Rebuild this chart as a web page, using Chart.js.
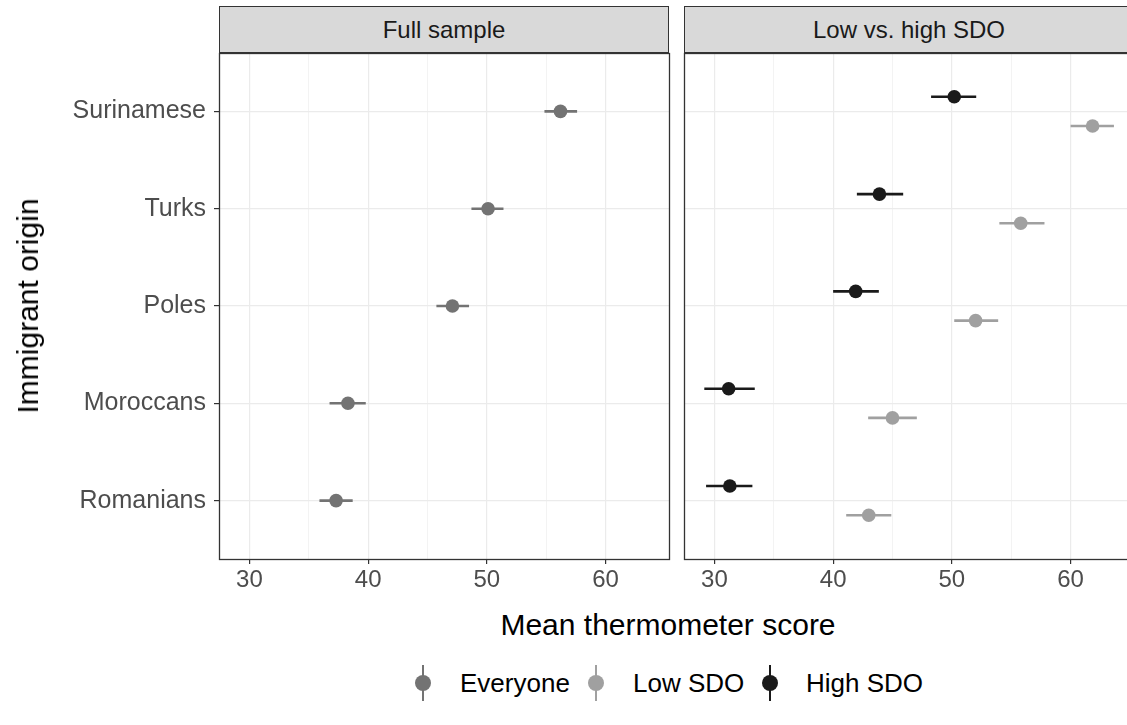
<!DOCTYPE html>
<html>
<head>
<meta charset="utf-8">
<script src="https://cdn.jsdelivr.net/npm/chart.js@4"></script>
<style>
  body { margin: 0; width: 1127px; height: 725px; overflow: hidden; background: #fff; font-family: "Liberation Sans", Arial, sans-serif; position: relative; }
  canvas { position: absolute; top: 0; }
  .strip { position: absolute; top: 6px; height: 47px; width: 450px; box-sizing: border-box; background: #D9D9D9; border: 1.3px solid #333; color: #1A1A1A; font-size: 24px; text-align: center; line-height: 45px; }
  .title { position: absolute; color: #000; font-size: 30px; white-space: nowrap; line-height: 34px; }
  .key { position: absolute; width: 16px; height: 36px; }
  .key .ln { position: absolute; left: 7px; top: 0; width: 2.4px; height: 36px; }
  .key .pt { position: absolute; left: 0; top: 10px; width: 16px; height: 16px; border-radius: 50%; }
  .lab { position: absolute; font-size: 26px; color: #000; line-height: 28px; }
</style>
</head>
<body>
<canvas id="leftPanel" width="684" height="600" style="left:0"></canvas>
<canvas id="rightPanel" width="480" height="600" style="left:669px"></canvas>
<div class="strip" style="left:219px">Full sample</div>
<div class="strip" style="left:684px">Low vs. high SDO</div>
<div class="title" style="left:668px; top:608px; transform:translateX(-50%)">Mean thermometer score</div>
<div class="title" style="left:28px; top:306px; transform:translate(-50%,-50%) rotate(-90deg)">Immigrant origin</div>

<div class="key" style="left:415px; top:665px"><div class="ln" style="background:#737373"></div><div class="pt" style="background:#737373"></div></div>
<div class="lab" style="left:460px; top:669px">Everyone</div>
<div class="key" style="left:588px; top:665px"><div class="ln" style="background:#A0A0A0"></div><div class="pt" style="background:#A0A0A0"></div></div>
<div class="lab" style="left:633px; top:669px">Low SDO</div>
<div class="key" style="left:762px; top:665px"><div class="ln" style="background:#1A1A1A"></div><div class="pt" style="background:#1A1A1A"></div></div>
<div class="lab" style="left:806px; top:669px">High SDO</div>

<script>
// bottom to top, as ggplot puts them on the discrete axis
const categories = ['Romanians', 'Moroccans', 'Poles', 'Turks', 'Surinamese'];

const everyoneMean = [37.3, 38.3, 47.1, 50.1, 56.2];
const everyoneLo   = [35.9, 36.75, 45.75, 48.7, 54.85];
const everyoneHi   = [38.7, 39.8, 48.5, 51.4, 57.6];

const lowMean = [43.0, 45.0, 52.0, 55.8, 61.85];
const lowLo   = [41.1, 42.95, 50.2, 54.0, 60.0];
const lowHi   = [44.9, 47.05, 53.9, 57.8, 63.65];

const highMean = [31.3, 31.2, 41.9, 43.9, 50.2];
const highLo   = [29.3, 29.15, 40.0, 42.0, 48.25];
const highHi   = [33.2, 33.4, 43.85, 45.9, 52.05];

const xTicks = [30, 40, 50, 60];
const DODGE = 0.15;

const colEveryone = '#737373';
const colLow = '#A0A0A0';
const colHigh = '#1A1A1A';

function points(mean, lo, hi, shift) {
    return mean.map((m, i) => ({ x: m, y: i + 1 + shift, lo: lo[i], hi: hi[i] }));
}

// horizontal error bars + panel border, drawn with the chart's own scales
const rangePlugin = {
    id: 'ranges',
    beforeDatasetsDraw(chart) {
        const ctx = chart.ctx;
        const xs = chart.scales.x, ys = chart.scales.y;
        ctx.save();
        ctx.lineWidth = 2.6;
        chart.data.datasets.forEach(ds => {
            ctx.strokeStyle = ds.backgroundColor;
            ds.data.forEach(p => {
                const y = ys.getPixelForValue(p.y);
                ctx.beginPath();
                ctx.moveTo(xs.getPixelForValue(p.lo), y);
                ctx.lineTo(xs.getPixelForValue(p.hi), y);
                ctx.stroke();
            });
        });
        ctx.restore();
    },
    afterDatasetsDraw(chart) {
        const a = chart.chartArea;
        const ctx = chart.ctx;
        ctx.save();
        ctx.strokeStyle = '#333333';
        ctx.lineWidth = 1.3;
        ctx.strokeRect(a.left + 0.5, a.top + 0.5, a.right - a.left, a.bottom - a.top);
        ctx.restore();
    }
};

function makeOptions(showLabels, padLeft) {
    return {
        responsive: false,
        animation: false,
        devicePixelRatio: 1,
        layout: { padding: { top: 53, right: 15, left: padLeft, bottom: 0 } },
        plugins: { legend: { display: false }, tooltip: { enabled: false } },
        scales: {
            x: {
                type: 'linear',
                min: 27.44,
                max: 65.34,
                border: { display: false },
                grid: {
                    color: c => (c.tick && c.tick.value > 60) ? 'rgba(0,0,0,0)' : '#EBEBEB',
                    lineWidth: c => (c.tick && xTicks.includes(c.tick.value)) ? 1.2 : 0.6,
                    tickColor: c => (c.tick && xTicks.includes(c.tick.value)) ? '#333333' : 'rgba(0,0,0,0)',
                    tickLength: 5,
                    tickWidth: 1.2
                },
                ticks: {
                    stepSize: 5,
                    includeBounds: false,
                    autoSkip: false,
                    maxRotation: 0,
                    padding: 2,
                    color: '#4D4D4D',
                    font: { family: 'Liberation Sans', size: 24 },
                    callback: v => xTicks.includes(v) ? String(v) : ''
                },
                afterFit: s => { s.height = 41; }
            },
            y: {
                type: 'linear',
                min: 0.4,
                max: 5.6,
                border: { display: false },
                afterBuildTicks: s => { s.ticks = categories.map((c, i) => ({ value: i + 1 })); },
                grid: {
                    color: '#EBEBEB',
                    lineWidth: 1.2,
                    drawTicks: showLabels,
                    tickColor: '#333333',
                    tickLength: 5,
                    tickWidth: 1.2
                },
                ticks: {
                    display: showLabels,
                    autoSkip: false,
                    padding: 8,
                    color: '#4D4D4D',
                    font: { family: 'Liberation Sans', size: 25 },
                    callback: v => categories[v - 1]
                },
                afterFit: s => { s.width = showLabels ? 219 : 0; }
            }
        }
    };
}

function pointSet(label, data, colour) {
    return {
        label: label,
        data: data,
        backgroundColor: colour,
        borderColor: colour,
        pointRadius: 6.8,
        pointBorderWidth: 0
    };
}

new Chart(document.getElementById('leftPanel'), {
    type: 'scatter',
    data: {
        datasets: [
            pointSet('Everyone', points(everyoneMean, everyoneLo, everyoneHi, 0), colEveryone)
        ]
    },
    options: makeOptions(true, 0),
    plugins: [rangePlugin]
});

new Chart(document.getElementById('rightPanel'), {
    type: 'scatter',
    data: {
        datasets: [
            pointSet('Low SDO', points(lowMean, lowLo, lowHi, -DODGE), colLow),
            pointSet('High SDO', points(highMean, highLo, highHi, DODGE), colHigh)
        ]
    },
    options: makeOptions(false, 15),
    plugins: [rangePlugin]
});
</script>
</body>
</html>
